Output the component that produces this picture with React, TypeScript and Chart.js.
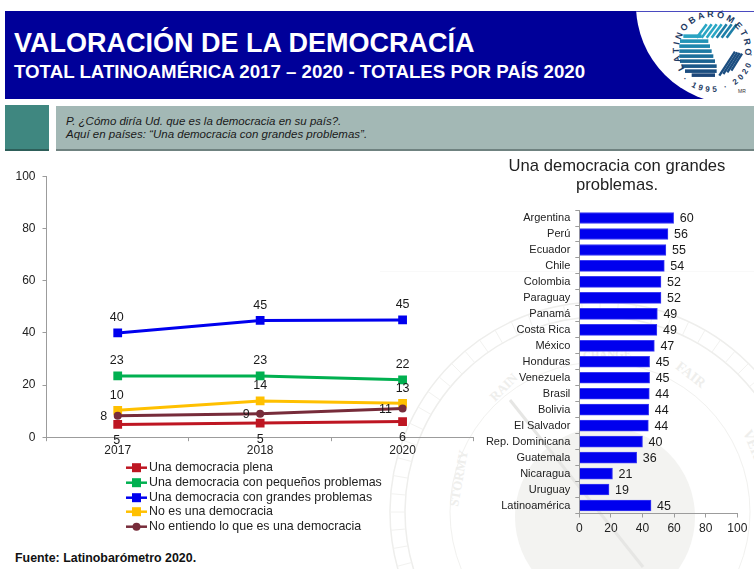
import React, { useEffect, useRef } from "react";
import { Chart, registerables } from "chart.js";

Chart.register(...registerables);

const FONT = '"Liberation Sans", Arial, sans-serif';

const years = ["2017", "2018", "2020"];
const plena = [4.9, 5.4, 6.0];
const pequenos = [23.5, 23.5, 22];
const grandes = [40, 44.8, 45];
const noEs = [10.3, 13.9, 13];
const noEntiendo = [8.2, 9, 11];
const plenaLabels = ["5", "5", "6"];
const pequenosLabels = ["23", "23", "22"];
const grandesLabels = ["40", "45", "45"];
const noEsLabels = ["10", "14", "13"];
const noEntiendoLabels = ["8", "9", "11"];

const countries = ["Argentina", "Perú", "Ecuador", "Chile", "Colombia", "Paraguay", "Panamá", "Costa Rica", "México", "Honduras", "Venezuela", "Brasil", "Bolivia", "El Salvador", "Rep. Dominicana", "Guatemala", "Nicaragua", "Uruguay", "Latinoamérica"];
const countryValues = [59.7, 56.1, 54.8, 53.8, 51.7, 51.7, 49.4, 49.1, 47.5, 44.5, 44.5, 44.3, 43.9, 43.7, 40, 36.3, 21, 18.8, 45.4];
const countryLabels = ["60", "56", "55", "54", "52", "52", "49", "49", "47", "45", "45", "44", "44", "44", "40", "36", "21", "19", "45"];

const lineLabelPlugin = {
  id: "lineLabels",
  afterDatasetsDraw(chart: any) {
    const ctx = chart.ctx;
    ctx.save();
    ctx.font = `12.5px ${FONT}`;
    ctx.fillStyle = "#1a1a1a";
    ctx.textAlign = "center";
    ctx.textBaseline = "middle";
    chart.data.datasets.forEach((ds: any, i: number) => {
      chart.getDatasetMeta(i).data.forEach((pt: any, j: number) => {
        const off = ds.labelOffsets[j];
        ctx.fillText(ds.valueLabels[j], pt.x + off[0], pt.y + off[1]);
      });
    });
    ctx.restore();
  },
};

const linePanelLegend = {
  id: "panelLegend",
  afterDraw(chart: any) {
    const ctx = chart.ctx;
    const rows = [307.7, 322.7, 337.7, 351.7, 366.7];
    ctx.save();
    ctx.textBaseline = "middle";
    ctx.textAlign = "left";
    ctx.font = `12.4px ${FONT}`;
    chart.data.datasets.forEach((ds: any, i: number) => {
      const y = rows[i];
      ctx.strokeStyle = ds.borderColor;
      ctx.lineWidth = 2.5;
      ctx.beginPath();
      ctx.moveTo(126, y);
      ctx.lineTo(147, y);
      ctx.stroke();
      ctx.fillStyle = ds.borderColor;
      if (ds.pointStyle === "circle") {
        ctx.beginPath();
        ctx.arc(136.5, y, 4, 0, Math.PI * 2);
        ctx.fill();
      } else {
        ctx.fillRect(132, y - 4.5, 9, 9);
      }
      ctx.fillStyle = "#222222";
      ctx.fillText(ds.label, 149, y);
    });
    ctx.restore();
  },
};

const barLabelPlugin = {
  id: "barLabels",
  afterDatasetsDraw(chart: any) {
    const ctx = chart.ctx;
    const ds = chart.data.datasets[0];
    ctx.save();
    ctx.font = `12.5px ${FONT}`;
    ctx.fillStyle = "#1a1a1a";
    ctx.textAlign = "center";
    ctx.textBaseline = "middle";
    chart.getDatasetMeta(0).data.forEach((bar: any, j: number) => {
      ctx.fillText(ds.valueLabels[j], bar.x + 13, bar.y + 1);
    });
    ctx.restore();
  },
};

const centerTitlePlugin = {
  id: "centerTitle",
  afterLayout(chart: any) {
    if (chart.titleBlock) chart.titleBlock.right = chart.width;
  },
};

function seriesSet(label: string, data: number[], color: string, valueLabels: string[], labelOffsets: number[][], pointStyle: string, order: number) {
  return {
    label,
    data,
    valueLabels,
    labelOffsets,
    order,
    borderColor: color,
    backgroundColor: color,
    borderWidth: 3,
    pointStyle,
    pointRadius: pointStyle === "circle" ? 4 : 6.2,
    pointBorderWidth: 0,
    tension: 0,
  };
}

const Background = () => {
  const cx = 600;
  const cy = 512;
  const ticks: React.ReactNode[] = [];
  for (let i = 0; i < 72; i++) {
    const a = (i * 5 * Math.PI) / 180;
    ticks.push(
      <line key={i} x1={cx + 195 * Math.cos(a)} y1={cy + 195 * Math.sin(a)} x2={cx + 210 * Math.cos(a)} y2={cy + 210 * Math.sin(a)} stroke="#f2f2f0" strokeWidth={1} />
    );
  }
  const bodyRows: number[][] = [
    [88, 190, 245], [103, 180, 265], [118, 178, 270], [133, 178, 275], [148, 178, 280],
    [163, 180, 285], [178, 185, 290], [193, 195, 290], [205, 215, 285],
  ];
  const rowColors = ["#2aa3c2", "#2393b6", "#1f86ad", "#1d7aa4", "#1c6f9b", "#1c6391", "#1c5888", "#1c4e80", "#1c4679"];
  const slants = [230, 245, 260, 275, 290, 305, 320];
  const zx = (v: number) => 620 + v / 3;
  const zy = (v: number) => 5 + v / 3;
  return (
    <svg width={754} height={569} style={{ position: "absolute", left: 0, top: 0 }}>
      <defs>
        <clipPath id="wm"><rect x={380} y={271} width={374} height={298} /></clipPath>
        <clipPath id="hd"><rect x={5} y={11} width={749} height={88} /></clipPath>
        <path id="topArc" d="M 684.6 68.5 A 33 33 0 1 1 744.7 54.6" />
        <path id="botArc" d="M 682.3 79.7 A 42 42 0 0 0 753.8 53.7" />
      </defs>
      <g clipPath="url(#wm)">
        <line x1={380} y1={271} x2={754} y2={271} stroke="#f4f4f4" />
        <circle cx={605} cy={517} r={90} fill="#f3f3f1" />
        <circle cx={cx} cy={cy} r={210} fill="none" stroke="#eeeeec" strokeWidth={1.5} />
        <circle cx={cx} cy={cy} r={195} fill="none" stroke="#eeeeec" strokeWidth={1.5} />
        <circle cx={cx} cy={cy} r={150} fill="none" stroke="#f1f1ef" strokeWidth={1} />
        {ticks}
        <line x1={510} y1={400} x2={643} y2={567} stroke="#e6e6e4" strokeWidth={3} />
        <g fill="#eeeeec" fontFamily='"Liberation Serif", serif' fontWeight="bold" fontSize={13}>
          <text transform="translate(458,507) rotate(-80)">STORMY</text>
          <text transform="translate(495,402) rotate(-45)">RAIN</text>
          <text transform="translate(583,359) rotate(-2)" fontSize={11}>CHANGE</text>
          <text transform="translate(675,368) rotate(38)" fontSize={14}>FAIR</text>
          <text transform="translate(743,432) rotate(68)" fontSize={14}>VERY</text>
        </g>
      </g>

      <rect x={5} y={11} width={749} height={88} fill="#000099" />
      <g clipPath="url(#hd)">
        <circle cx={735} cy={5} r={99} fill="#ffffff" />
      </g>
      <rect x={636} y={11} width={118} height={1} fill="#4a4ac0" />
      {bodyRows.map((r, i) => (
        <rect key={i} x={zx(r[1])} y={zy(r[0])} width={(r[2] - r[1]) / 3} height={3.6} fill={rowColors[i]} />
      ))}
      {slants.map((s, i) => (
        <line key={i} x1={zx(s)} y1={zy(98)} x2={zx(s + 30)} y2={zy(58)} stroke={i < 4 ? "#2aa6c4" : "#1e7fa8"} strokeWidth={2.6} />
      ))}
      {[0, 1, 2, 3].map((i) => (
        <line key={i} x1={zx(298 + i * 12)} y1={zy(212 - i * 5)} x2={zx(345 + i * 7)} y2={zy(140 + i * 2)} stroke="#1c4e80" strokeWidth={2.4} />
      ))}
      <text fontFamily={FONT} fontSize={9} fontWeight="bold" fill="#1d3a63">
        <textPath href="#topArc" textLength={128} lengthAdjust="spacing">LATINOBARÓMETRO</textPath>
      </text>
      <text fontFamily={FONT} fontSize={8} fontWeight="bold" fill="#1d3a63">
        <textPath href="#botArc" textLength={95} lengthAdjust="spacing">· 1995 · 2020 ·</textPath>
      </text>
      <text x={738} y={93} fontFamily={FONT} fontSize={5} fill="#333">MR</text>

      <text x={14} y={52} fontFamily={FONT} fontWeight="bold" fontSize={27} fill="#ffffff">VALORACIÓN DE LA DEMOCRACÍA</text>
      <text x={14} y={78} fontFamily={FONT} fontWeight="bold" fontSize={18.7} fill="#ffffff">TOTAL LATINOAMÉRICA 2017 – 2020 - TOTALES POR PAÍS 2020</text>

      <rect x={5} y={105} width={44} height={44} fill="#3f8780" />
      <rect x={5} y={149} width={44} height={2} fill="#2d5e59" />
      <rect x={56} y={106} width={698} height={43} fill="#a3b8b5" />
      <rect x={56} y={149} width={698} height={2} fill="#6f8280" />
      <g fontFamily={FONT} fontStyle="italic" fontSize={11.5} fill="#1a1a1a">
        <text x={66} y={125}>P. ¿Cómo diría Ud. que es la democracia en su país?.</text>
        <text x={66} y={138}>Aquí en países: “Una democracia con grandes problemas”.</text>
      </g>
      <text x={15} y={562} fontFamily={FONT} fontWeight="bold" fontSize={12.4} fill="#111111">Fuente: Latinobarómetro 2020.</text>
    </svg>
  );
};

export default function App() {
  const lineRef = useRef<HTMLCanvasElement>(null);
  const barRef = useRef<HTMLCanvasElement>(null);

  useEffect(() => {
    const axisColor = "#9c9c9c";
    const lineChart = new Chart(lineRef.current as HTMLCanvasElement, {
      type: "line",
      data: {
        labels: years,
        datasets: [
          seriesSet("Una democracia plena", plena, "#BE1622", plenaLabels, [[-1, 16], [0, 16], [0, 16]], "rect", 5),
          seriesSet("Una democracia con pequeños problemas", pequenos, "#00B050", pequenosLabels, [[-1, -15], [0, -15], [0, -15]], "rect", 4),
          seriesSet("Una democracia con grandes problemas", grandes, "#0000EE", grandesLabels, [[-1, -15], [0, -15], [0, -15]], "rect", 3),
          seriesSet("No es una democracia", noEs, "#FFC000", noEsLabels, [[-1, -15], [0, -15], [0, -15]], "rect", 2),
          seriesSet("No entiendo lo que es una democracia", noEntiendo, "#772C3A", noEntiendoLabels, [[-14, 1], [-14, 1], [-17, 1]], "circle", 1),
        ] as any,
      },
      options: {
        animation: false,
        responsive: false,
        layout: { padding: { top: 16.5, right: 5 } },
        plugins: { legend: { display: false }, title: { display: false }, tooltip: { enabled: false } },
        scales: {
          x: {
            offset: true,
            border: { color: axisColor, width: 1 },
            grid: { drawOnChartArea: false, tickLength: 4, color: axisColor, offset: true },
            ticks: { color: "#222222", font: { family: FONT, size: 12 }, padding: 2, maxRotation: 0 },
            afterFit(scale: any) { scale.height = 122.8; },
          },
          y: {
            min: 0,
            max: 100,
            border: { color: axisColor, width: 1 },
            grid: { drawOnChartArea: false, tickLength: 4, color: axisColor },
            ticks: { stepSize: 20, color: "#222222", font: { family: FONT, size: 12 }, padding: 7 },
            afterFit(scale: any) { scale.width = 46.5; },
          },
        },
      } as any,
      plugins: [lineLabelPlugin, linePanelLegend],
    });

    const barChart = new Chart(barRef.current as HTMLCanvasElement, {
      type: "bar",
      data: {
        labels: countries,
        datasets: [
          {
            label: "Una democracia con grandes problemas.",
            data: countryValues,
            valueLabels: countryLabels,
            backgroundColor: "#0000EE",
            borderColor: "#3B3BF2",
            borderWidth: 1,
            barThickness: 11,
          } as any,
        ],
      },
      options: {
        indexAxis: "y",
        animation: false,
        responsive: false,
        layout: { padding: { right: 16.7 } },
        plugins: {
          legend: { display: false },
          tooltip: { enabled: false },
          title: {
            display: true,
            text: ["Una democracia con grandes", "problemas."],
            color: "#222222",
            font: { family: FONT, size: 16.6, weight: "normal", lineHeight: 1.2 },
            padding: { top: 6, bottom: 14.2 },
          },
        },
        scales: {
          x: {
            min: 0,
            max: 100,
            border: { color: axisColor, width: 1 },
            grid: { drawOnChartArea: false, tickLength: 4, color: axisColor },
            ticks: { stepSize: 20, color: "#222222", font: { family: FONT, size: 12 }, padding: 4, maxRotation: 0 },
            afterFit(scale: any) { scale.height = 55.5; },
          },
          y: {
            border: { color: axisColor, width: 1 },
            grid: { drawOnChartArea: false, tickLength: 4, color: axisColor, offset: true },
            ticks: { color: "#222222", font: { family: FONT, size: 11 }, padding: 5, autoSkip: false },
            afterFit(scale: any) { scale.width = 99.3; },
          },
        },
      } as any,
      plugins: [barLabelPlugin, centerTitlePlugin],
    });

    return () => {
      lineChart.destroy();
      barChart.destroy();
    };
  }, []);

  return (
    <div style={{ position: "absolute", left: 0, top: 0, width: 754, height: 569, overflow: "hidden", background: "#ffffff" }}>
      <Background />
      <canvas ref={lineRef} width={480} height={400} style={{ position: "absolute", left: 0, top: 160, width: 480, height: 400 }} />
      <canvas ref={barRef} width={274} height={419} style={{ position: "absolute", left: 480, top: 150, width: 274, height: 419 }} />
    </div>
  );
}
